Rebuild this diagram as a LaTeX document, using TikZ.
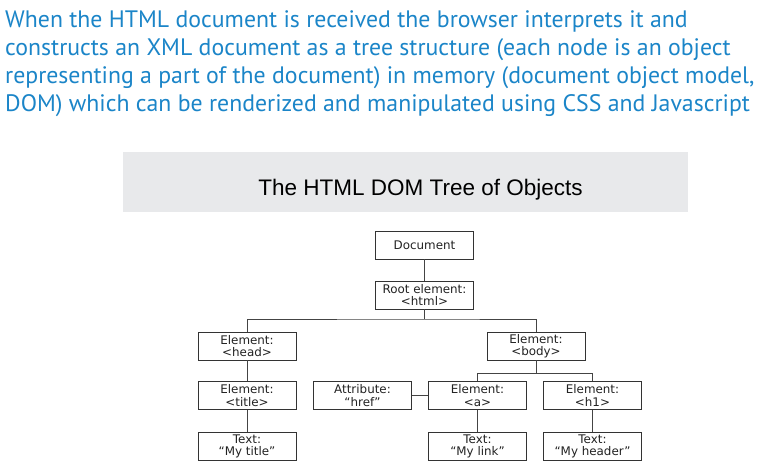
\documentclass[tikz,border=0pt]{standalone}
\usepackage{fontspec}
\newfontfamily\ptsans{PT Sans}
\newfontfamily\arial{Liberation Sans}
\newfontfamily\verd{DejaVu Sans}
\definecolor{introblue}{HTML}{1B85C8}
\definecolor{bannergray}{HTML}{E8E9EB}
\definecolor{boxline}{HTML}{333333}
\definecolor{linkline}{HTML}{444444}
\definecolor{boxtext}{HTML}{222222}
\begin{document}
\begin{tikzpicture}[x=1pt,y=-1pt,
  intro/.style={anchor=base west,inner sep=0pt,text=introblue,font=\ptsans\fontsize{23.8}{23.8}\selectfont},
  dombox/.style={draw=boxline,line width=0.9pt,minimum width=98pt,minimum height=28pt,inner sep=0pt,align=center,text=boxtext,font=\verd\fontsize{11.9}{12.5}\selectfont},
  link/.style={draw=linkline,line width=0.9pt}]
\useasboundingbox (0,0) rectangle (768,467);
\node[intro] (l1) at (5,27) {When the HTML document is received the browser interprets it and};
\node[intro] (l2) at (5,55) {constructs an XML document as a tree structure (each node is an object};
\node[intro] (l3) at (5,83) {representing a part of the document) in memory (document object model,};
\node[intro] (l4) at (5,111) {DOM) which can be renderized and manipulated using CSS and Javascript};
\fill[bannergray] (123,152) rectangle (688,212);
\node[anchor=base,inner sep=0pt,font=\arial\fontsize{22.5}{22.5}\selectfont] (title) at (420.5,195) {The HTML DOM Tree of Objects};
\node[dombox] (doc) at (424.5,245) {Document};
\node[dombox] (root) at (424.5,295) {Root element:\\<html>};
\node[dombox] (head) at (247,346) {Element:\\<head>};
\node[dombox] (body) at (536,346) {Element:\\<body>};
\node[dombox] (ttl) at (247,395.5) {Element:\\<title>};
\node[dombox] (href) at (362.5,395.5) {Attribute:\\“href”};
\node[dombox] (a) at (477.5,395.5) {Element:\\<a>};
\node[dombox] (h1) at (592.5,395.5) {Element:\\<h1>};
\node[dombox] (ttext) at (247,446.5) {Text:\\“My title”};
\node[dombox] (ltext) at (477.5,446.5) {Text:\\“My link”};
\node[dombox] (htext) at (592.5,446.5) {Text:\\“My header”};
\coordinate (j1) at (424.5,319);
\coordinate (j2) at (536,373);
\draw[link] (doc.south) -- (root.north);
\draw[link] (root.south) -- (j1);
\draw[link] (head.north) |- (j1) -| (body.north);
\draw[link] (body.south) -- (j2);
\draw[link] (a.north) |- (j2) -| (h1.north);
\draw[link] (head.south) -- (ttl.north);
\draw[link] (ttl.south) -- (ttext.north);
\draw[link] (href.east) -- (a.west);
\draw[link] (a.south) -- (ltext.north);
\draw[link] (h1.south) -- (htext.north);
\end{tikzpicture}
\end{document}
